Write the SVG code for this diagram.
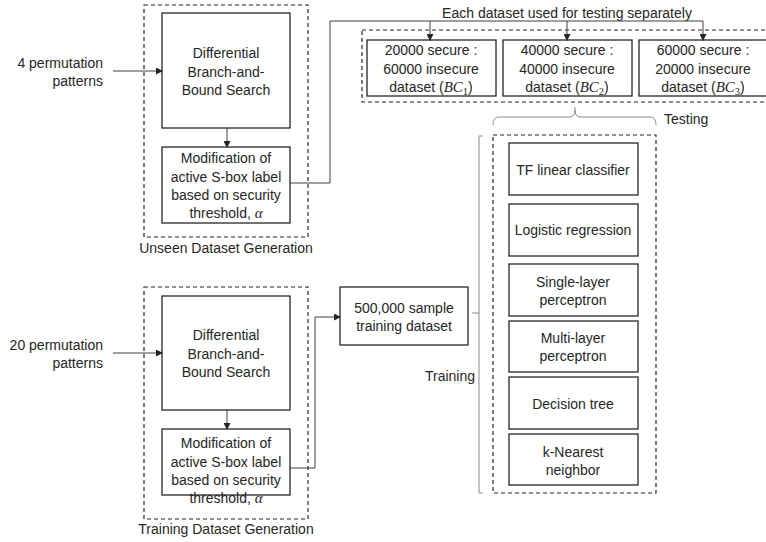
<svg xmlns="http://www.w3.org/2000/svg" width="766" height="542" viewBox="0 0 766 542">
<style>
text{font-family:"Liberation Sans",Arial,sans-serif;font-size:14px;fill:#262626}
.c{text-anchor:middle}
.r{text-anchor:end}
.m{font-family:"Liberation Serif","Times New Roman",serif;font-style:italic;font-size:15px}
.s{font-family:"Liberation Serif","Times New Roman",serif;font-size:10.5px}
.box{fill:#fff;stroke:#262626;stroke-width:1.3}
.dash{fill:none;stroke:#262626;stroke-width:1.2;stroke-dasharray:4 3}
.ln{fill:none;stroke:#404040;stroke-width:1}
.br{fill:none;stroke:#8c8c8c;stroke-width:1}
</style>
<defs>
<marker id="ah" markerWidth="7" markerHeight="7" refX="6" refY="3.5" orient="auto" markerUnits="userSpaceOnUse">
<path d="M0,0 L7,3.5 L0,7 z" fill="#262626"/>
</marker>
</defs>

<g id="unseen-group">
<rect class="dash" x="144" y="5" width="164" height="232"/>
<text class="c" x="226" y="253">Unseen Dataset Generation</text>
</g>
<g id="input-top">
<text class="r" x="103" y="68">4 permutation</text>
<text class="r" x="103" y="86">patterns</text>
</g>
<g id="dbb-top">
<rect class="box" x="162" y="13" width="128" height="115"/>
<text class="c" x="226" y="58">Differential</text>
<text class="c" x="226" y="77">Branch-and-</text>
<text class="c" x="226" y="95">Bound Search</text>
</g>
<g id="mod-top">
<rect class="box" x="162" y="147" width="128" height="76"/>
<text class="c" x="226" y="163">Modification of</text>
<text class="c" x="226" y="182">active S-box label</text>
<text class="c" x="226" y="200">based on security</text>
<text class="c" x="226" y="218">threshold, <tspan class="m">α</tspan></text>
</g>

<g id="training-group">
<rect class="dash" x="144" y="287" width="164" height="232"/>
<text class="c" x="226" y="534">Training Dataset Generation</text>
</g>
<g id="input-bottom">
<text class="r" x="103" y="350">20 permutation</text>
<text class="r" x="103" y="368">patterns</text>
</g>
<g id="dbb-bottom">
<rect class="box" x="162" y="296" width="128" height="114"/>
<text class="c" x="226" y="340">Differential</text>
<text class="c" x="226" y="359">Branch-and-</text>
<text class="c" x="226" y="377">Bound Search</text>
</g>
<g id="mod-bottom">
<rect class="box" x="162" y="429" width="128" height="66"/>
<text class="c" x="226" y="448">Modification of</text>
<text class="c" x="226" y="467">active S-box label</text>
<text class="c" x="226" y="485">based on security</text>
<text class="c" x="226" y="503">threshold, <tspan class="m">α</tspan></text>
</g>

<g id="testing-sets">
<rect class="dash" x="362" y="30" width="410" height="72"/>
<text class="c" x="567" y="18">Each dataset used for testing separately</text>
</g>
<g id="bc1">
<rect class="box" x="367" y="40" width="129" height="56"/>
<text class="c" x="431" y="55">20000 secure :</text>
<text class="c" x="431" y="74">60000 insecure</text>
<text class="c" x="431" y="92">dataset (<tspan class="m">BC</tspan><tspan class="s" dy="3">1</tspan><tspan dy="-3">)</tspan></text>
</g>
<g id="bc2">
<rect class="box" x="503" y="40" width="129" height="56"/>
<text class="c" x="567" y="55">40000 secure :</text>
<text class="c" x="567" y="74">40000 insecure</text>
<text class="c" x="567" y="92">dataset (<tspan class="m">BC</tspan><tspan class="s" dy="3">2</tspan><tspan dy="-3">)</tspan></text>
</g>
<g id="bc3">
<rect class="box" x="639" y="40" width="129" height="56"/>
<text class="c" x="703" y="55">60000 secure :</text>
<text class="c" x="703" y="74">20000 insecure</text>
<text class="c" x="703" y="92">dataset (<tspan class="m">BC</tspan><tspan class="s" dy="3">3</tspan><tspan dy="-3">)</tspan></text>
</g>

<g id="sample-dataset">
<rect class="box" x="340" y="287" width="128" height="58"/>
<text class="c" x="404" y="313">500,000 sample</text>
<text class="c" x="404" y="331">training dataset</text>
</g>

<g id="models-group">
<rect class="dash" x="493" y="135" width="163" height="358"/>
<text x="664" y="124">Testing</text>
<text class="r" x="475" y="381">Training</text>
</g>
<g id="tf">
<rect class="box" x="509" y="143" width="129" height="52"/>
<text class="c" x="573" y="175">TF linear classifier</text>
</g>
<g id="logreg">
<rect class="box" x="509" y="204" width="129" height="52"/>
<text class="c" x="573" y="235">Logistic regression</text>
</g>
<g id="slp">
<rect class="box" x="509" y="264" width="129" height="52"/>
<text class="c" x="573" y="287">Single-layer</text>
<text class="c" x="573" y="305">perceptron</text>
</g>
<g id="mlp">
<rect class="box" x="509" y="321" width="129" height="51"/>
<text class="c" x="573" y="343">Multi-layer</text>
<text class="c" x="573" y="361">perceptron</text>
</g>
<g id="dt">
<rect class="box" x="509" y="377" width="129" height="52"/>
<text class="c" x="573" y="409">Decision tree</text>
</g>
<g id="knn">
<rect class="box" x="509" y="434" width="129" height="51"/>
<text class="c" x="573" y="457">k-Nearest</text>
<text class="c" x="573" y="475">neighbor</text>
</g>

<g id="connectors">
<path class="ln" d="M113,71 H162" marker-end="url(#ah)"/>
<path class="ln" d="M227,128 V147" marker-end="url(#ah)"/>
<path class="ln" d="M290,183 H330 V21 H703"/>
<path class="ln" d="M430,21 V40" marker-end="url(#ah)"/>
<path class="ln" d="M567,21 V40" marker-end="url(#ah)"/>
<path class="ln" d="M703,21 V40" marker-end="url(#ah)"/>
<path class="ln" d="M113,353 H162" marker-end="url(#ah)"/>
<path class="ln" d="M227,410 V429" marker-end="url(#ah)"/>
<path class="ln" d="M290,468 H315 V317 H340" marker-end="url(#ah)"/>
<path class="br" d="M493,125 Q493,117 499,117 H569 Q575,117 575,110 V107 M575,110 Q575,117 581,117 H650 Q656,117 656,125"/>
<path class="br" d="M483,136 H479 V493 H483 M479,313 H472"/>
</g>
</svg>
